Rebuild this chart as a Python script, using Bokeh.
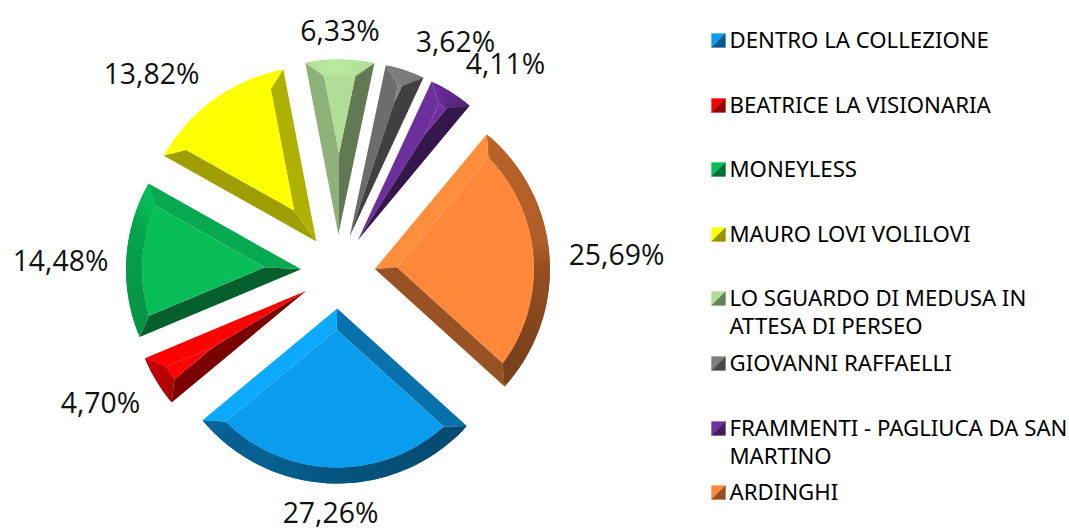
import math
from bokeh.plotting import figure
from bokeh.models import Range1d
from bokeh.core.properties import value
from bokeh.embed import file_html
from bokeh.resources import INLINE

categories = ["DENTRO LA COLLEZIONE", "BEATRICE LA VISIONARIA", "MONEYLESS", "MAURO LOVI VOLILOVI",
              "LO SGUARDO DI MEDUSA IN\nATTESA DI PERSEO", "GIOVANNI RAFFAELLI",
              "FRAMMENTI - PAGLIUCA DA SAN\nMARTINO", "ARDINGHI"]
shares = [27.26, 4.70, 14.48, 13.82, 6.33, 3.62, 4.11, 25.69]

face_colors = ["#0A9DEE", "#FF0000", "#06BD58", "#FFFF00", "#B0DE96", "#7F7F7F", "#7030A0", "#FF883A"]
label_x = [330, 100, 60, 151, 339.5, 455, 505, 616]
label_y = [511, 401, 259, 72, 29, 40, 62, 253]
legend_y = [39, 104, 168, 233, 297, 362, 427, 491]

CX, CY, R, EXPLODE, BEVEL, FIRST = 337.5, 271, 175, 37, 16, 132.2
LIGHT = [(0, 1.05), (25, .95), (38, .78), (42, .72), (80, .69), (90, .58), (102, .55), (115, .5), (130, .47),
         (140, .48), (157, .5), (180, .54), (209, .62), (222, .6), (230, .66), (247, .78), (260, .8),
         (285, .87), (297, 1.0), (320, 1.08), (340, 1.0), (360, 1.05)]


def light(theta):
    theta %= 360
    for (a, ka), (b, kb) in zip(LIGHT, LIGHT[1:]):
        if a <= theta <= b:
            return ka + (kb - ka) * (theta - a) / (b - a)
    return 1


def shade(col, k):
    rgb = [int(col[i:i + 2], 16) for i in (1, 3, 5)]
    return "#%02X%02X%02X" % tuple(min(255, round(c * k)) for c in rgb)


def polar(x, y, r, a):
    t = math.radians(a)
    return x + r * math.sin(t), y - r * math.cos(t)


p = figure(width=1069, height=529, x_range=Range1d(0, 1069), y_range=Range1d(529, 0),
           output_backend="svg", toolbar_location=None, min_border=0)
p.axis.visible = False
p.grid.visible = False
p.outline_line_color = None
p.background_fill_color = "white"
p.border_fill_color = "white"

xs, ys, fills = [], [], []


def add(points, color):
    xs.append([q[0] for q in points])
    ys.append([q[1] for q in points])
    fills.append(color)


total = sum(shares)
start = FIRST
for share, col in zip(shares, face_colors):
    span = share / total * 360
    a0, a1 = start, start + span
    start = a1
    mid = (a0 + a1) / 2
    tx, ty = polar(CX, CY, EXPLODE, mid)
    phi = math.degrees(math.asin(BEVEL / (R - BEVEL)))
    inner_tip = polar(tx, ty, BEVEL / math.sin(math.radians(span / 2)), mid)
    b0, b1 = a0 + phi, a1 - phi
    n = max(2, int(span / 1.5))
    outer = [polar(tx, ty, R, a0 + (a1 - a0) * i / n) for i in range(n + 1)]
    inner = [polar(tx, ty, R - BEVEL, b0 + (b1 - b0) * i / n) for i in range(n + 1)]
    # arc bevel first: every strip overlaps the next one, so no seams appear
    for i in range(n):
        j = min(n, i + 2)
        add(outer[i:j + 1] + inner[i:j + 1][::-1], shade(col, light(a0 + (a1 - a0) * (i + .5) / n)))
    add([(tx, ty), outer[0], inner[0], inner_tip], shade(col, light(a0 - 90)))
    add([(tx, ty), outer[-1], inner[-1], inner_tip], shade(col, light(a1 + 90)))
    add([inner_tip] + inner, col)

p.patches(xs, ys, fill_color=fills, line_color=None)

labels = [f"{s:.2f}%".replace(".", ",") for s in shares]
p.text(label_x, label_y, text=labels, text_font=value("Open Sans"), text_font_size="28.4px",
       text_align="center", text_baseline="middle", text_color="#111111")

kx, ks, tx0 = 711, 14, 729
kxs, kys, kfs = [], [], []
for y, col in zip(legend_y, face_colors):
    t, b = y - ks / 2 + 1, y + ks / 2 + 1
    kxs += [[kx, kx + ks, kx], [kx + ks, kx + ks, kx]]
    kys += [[b, t, t], [t, b, b]]
    kfs += [col, shade(col, .58)]
p.patches(kxs, kys, fill_color=kfs, line_color=kfs, line_width=0.3)

for cat, y in zip(categories, legend_y):
    for i, line in enumerate(cat.split("\n")):
        p.text([tx0], [y + i * 27.5], text=[line], text_font=value("Noto Sans"), text_font_size="22.2px",
               text_align="left", text_baseline="middle", text_color="#000000")

open("out.html", "w").write(file_html(p, INLINE))
